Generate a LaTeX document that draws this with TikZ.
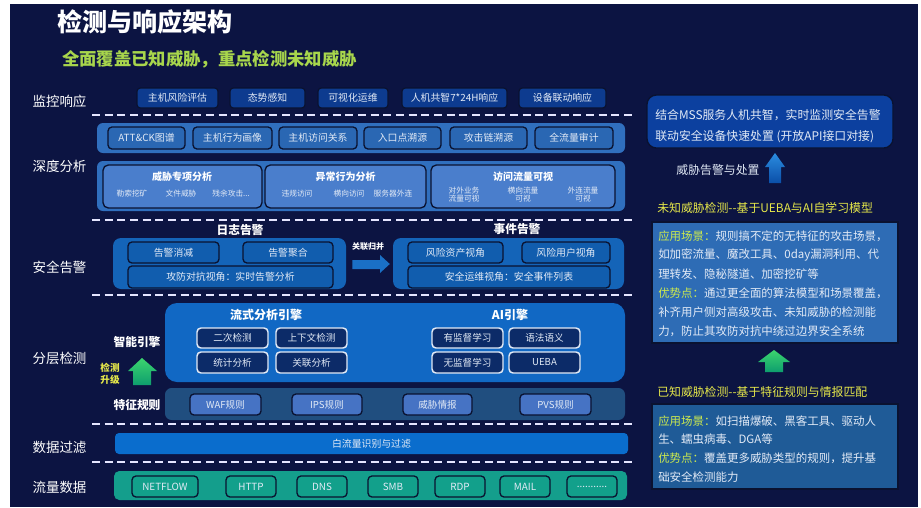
\documentclass[tikz,border=0pt]{standalone}
\usepackage{fontspec}
\setmainfont{Noto Sans CJK SC}
\definecolor{bg}{HTML}{0C1442}
\definecolor{topfill}{HTML}{0D3B8F}
\definecolor{dkline}{HTML}{0A1230}
\definecolor{deepband}{HTML}{306FBE}
\definecolor{deepboxc}{HTML}{2A67B3}
\definecolor{grpboxc}{HTML}{4A7ECC}
\definecolor{alertband}{HTML}{1464B8}
\definecolor{alertboxc}{HTML}{115DAE}
\definecolor{engband}{HTML}{1168C4}
\definecolor{engboxc}{HTML}{0C2B68}
\definecolor{ruleband}{HTML}{204E7F}
\definecolor{ruleboxc}{HTML}{4673C4}
\definecolor{filterband}{HTML}{0A6DCD}
\definecolor{flowband}{HTML}{149E8C}
\definecolor{flowboxc}{HTML}{12A08B}
\definecolor{txt}{HTML}{E2EAF6}
\definecolor{subgreen}{HTML}{A8D64C}
\definecolor{ylw}{HTML}{E6E84A}
\definecolor{hl}{HTML}{CDEA4E}
\definecolor{rbox1}{HTML}{0C409F}
\definecolor{rbox2}{HTML}{2E6CB5}
\definecolor{rbox3}{HTML}{1F5B97}
\definecolor{arrowblue}{HTML}{1A70C6}
\begin{document}
\begin{tikzpicture}[x=0.75pt,y=-0.75pt,
  wh/.style 2 args={minimum width=#1*0.75pt, minimum height=#2*0.75pt, inner sep=0pt},
  sidelbl/.style={text=white, font=\fontsize{10.1}{12}\selectfont},
  topbox/.style={draw=dkline, fill=topfill, rounded corners=2.5pt, line width=0.9pt, text=txt, font=\fontsize{7.4}{9}\selectfont},
  band/.style={rounded corners=4.5pt, inner sep=0pt},
  deepbx/.style={draw=dkline, fill=deepboxc, rounded corners=3pt, line width=1pt, text=txt, font=\fontsize{7.4}{9}\selectfont},
  grpbx/.style={draw=dkline, fill=grpboxc, rounded corners=4pt, line width=1pt},
  grptitle/.style={text=white, font=\bfseries\fontsize{7.5}{9}\selectfont},
  grpitem/.style={text=txt, font=\fontsize{5.8}{7}\selectfont, align=center},
  sectitle/.style={text=white, font=\bfseries\fontsize{8.8}{10}\selectfont},
  alertbx/.style={draw=dkline, fill=alertboxc, rounded corners=3pt, line width=1pt, text=txt, font=\fontsize{7.4}{9}\selectfont},
  engbx/.style={draw=txt, fill=engboxc, rounded corners=3pt, line width=1.1pt, text=txt, font=\fontsize{7.2}{9}\selectfont},
  rulebx/.style={draw=dkline, fill=ruleboxc, rounded corners=3pt, line width=1pt, text=txt, font=\fontsize{7.2}{9}\selectfont},
  flowbx/.style={draw=dkline, fill=flowboxc, rounded corners=3pt, line width=1pt, text=txt, font=\fontsize{7.4}{9}\selectfont},
  sepline/.style={draw=white!90!blue, line width=1.5pt, dash pattern=on 6pt off 3.5pt},
  rtext/.style={anchor=west, text=txt, font=\fontsize{8.9}{10}\selectfont, inner sep=0pt},
  rtext2/.style={anchor=west, text=txt, font=\fontsize{8.6}{10}\selectfont, inner sep=0pt},
  ytitle/.style={anchor=west, text=ylw, font=\fontsize{8.9}{10}\selectfont, inner sep=0pt}
]
\useasboundingbox (0,0) rectangle (921,507);
\fill[white] (0,0) rectangle (921,507);
\fill[bg] (10,4) rectangle (918,507);

% titles
\node[anchor=west, text=white, font=\bfseries\fontsize{18.8}{20}\selectfont, inner sep=0pt] (title) at (57,22) {检测与响应架构};
\node[anchor=west, text=subgreen, font=\bfseries\fontsize{13}{15}\selectfont, inner sep=0pt] (subtitle) at (62,59) {全面覆盖已知威胁，重点检测未知威胁};

% side labels
\node[sidelbl] (l1) at (59.5,101) {监控响应};
\node[sidelbl] (l2) at (59.5,166) {深度分析};
\node[sidelbl] (l3) at (59.5,267) {安全告警};
\node[sidelbl] (l4) at (59.5,358) {分层检测};
\node[sidelbl] (l5) at (59.5,447) {数据过滤};
\node[sidelbl] (l6) at (59.5,487) {流量数据};

% monitoring row
\node[topbox, wh={81}{20}] (m1) at (177.5,98) {主机风险评估};
\node[topbox, wh={75}{20}] (m2) at (267.5,98) {态势感知};
\node[topbox, wh={70}{20}] (m3) at (353,98) {可视化运维};
\node[topbox, wh={105}{20}] (m4) at (454.5,98) {人机共智7*24H响应};
\node[topbox, wh={87}{20}] (m5) at (562.5,98) {设备联动响应};

% separators
\draw[sepline] (92,115) -- (632,115);
\draw[sepline] (92,220) -- (632,220);
\draw[sepline] (92,295) -- (632,295);
\draw[sepline] (92,424) -- (632,424);
\draw[sepline] (92,462) -- (632,462);

% deep analysis
\node[band, fill=deepband, wh={528}{30}] (db1) at (361,138) {};
\node[deepbx, wh={77}{22}] (d1) at (146.5,138) {ATT\&CK图谱};
\node[deepbx, wh={79}{22}] (d2) at (232.5,138) {主机行为画像};
\node[deepbx, wh={78}{22}] (d3) at (318,138) {主机访问关系};
\node[deepbx, wh={77}{22}] (d4) at (402.5,138) {入口点溯源};
\node[deepbx, wh={77}{22}] (d5) at (488.5,138) {攻击链溯源};
\node[deepbx, wh={78}{22}] (d6) at (574,138) {全流量审计};

\node[band, fill=deepband, wh={528}{50}] (db2) at (361,186) {};
\node[grpbx, wh={159}{43}] (g1) at (182.5,186.5) {};
\node[grpbx, wh={161}{43}] (g2) at (345.5,186.5) {};
\node[grpbx, wh={184}{43}] (g3) at (523,186.5) {};
\node[grptitle] (g1t) at (182,177) {威胁专项分析};
\node[grptitle] (g2t) at (345.5,177) {异常行为分析};
\node[grptitle] (g3t) at (523,177) {访问流量可视};
\node[grpitem] (g1a) at (132,193.5) {勒索挖矿};
\node[grpitem] (g1b) at (181,193.5) {文件威胁};
\node[grpitem] (g1c) at (231,193.5) {残余攻击...};
\node[grpitem] (g2a) at (297,193.5) {违规访问};
\node[grpitem] (g2b) at (349,193.5) {横向访问};
\node[grpitem] (g2c) at (393,193.5) {服务器外连};
\node[grpitem] (g3a) at (464,194.5) {对外业务\\[-1.5pt]流量可视};
\node[grpitem] (g3b) at (523,194.5) {横向流量\\[-1.5pt]可视};
\node[grpitem] (g3c) at (583,194.5) {外连流量\\[-1.5pt]可视};

% security alerts
\node[sectitle] (logt) at (240,230) {日志告警};
\node[sectitle] (evt) at (517,229) {事件告警};
\node[band, fill=alertband, rounded corners=6pt, wh={233}{51}] (ab1) at (229.5,263.5) {};
\node[band, fill=alertband, rounded corners=6pt, wh={231}{51}] (ab2) at (508.5,263.5) {};
\node[alertbx, wh={91}{21}] (a1) at (173.5,252.5) {告警消减};
\node[alertbx, wh={90}{21}] (a2) at (288,252.5) {告警聚合};
\node[alertbx, wh={205}{22}] (a3) at (230.5,277) {攻防对抗视角：实时告警分析};
\node[alertbx, wh={95}{21}] (a4) at (455.5,252.5) {风险资产视角};
\node[alertbx, wh={88}{21}] (a5) at (566,252.5) {风险用户视角};
\node[alertbx, wh={202}{22}] (a6) at (509,277) {安全运维视角：安全事件列表};
\node[text=white, font=\bfseries\fontsize{6}{7}\selectfont, inner sep=0pt] (mergelbl) at (368,246) {关联归并};
\fill[arrowblue] ([xshift=4.5pt]ab1.east |- 0,260) -- (380,260) -- (380,255) -- ([xshift=-2.2pt]ab2.west |- 0,264) -- (380,273) -- (380,269) -- ([xshift=4.5pt]ab1.east |- 0,269) -- cycle;

% layered detection
\node[band, fill=engband, rounded corners=9pt, wh={460}{79}] (eng) at (395,342.5) {};
\node[text=white, font=\bfseries\fontsize{9}{10}\selectfont] (e1t) at (266,315) {流式分析引擎};
\node[text=white, font=\bfseries\fontsize{9}{10}\selectfont] (e2t) at (510,315) {AI引擎};
\node[engbx, wh={71}{20}] (e1) at (232.5,338) {二次检测};
\node[engbx, wh={71}{20}] (e2) at (311.5,338) {上下文检测};
\node[engbx, wh={71}{21}] (e3) at (232.5,362.5) {统计分析};
\node[engbx, wh={71}{21}] (e4) at (311.5,362.5) {关联分析};
\node[engbx, wh={71}{20}] (e5) at (467.5,338) {有监督学习};
\node[engbx, wh={71}{20}] (e6) at (544.5,338) {语法语义};
\node[engbx, wh={71}{21}] (e7) at (467.5,362.5) {无监督学习};
\node[engbx, wh={71}{21}] (e8) at (544.5,362.5) {UEBA};
\node[sectitle] (smart) at (137,342) {智能引擎};
\node[text=ylw, font=\bfseries\fontsize{7.2}{8.6}\selectfont, align=center, inner sep=0pt] (upg) at (110,374) {检测\\升级};
\shade[top color={rgb,255:red,60;green,212;blue,110}, bottom color={rgb,255:red,14;green,158;blue,110}]
  (142,358) -- (157,371) -- (151,371) -- (151,385) -- (133,385) -- (133,371) -- (128,371) -- cycle;

\node[sectitle] (feat) at (137,405) {特征规则};
\node[band, fill=ruleband, rounded corners=5pt, wh={460}{32}] (rb) at (395,404) {};
\node[rulebx, wh={71}{21}] (r1) at (225.5,404.5) {WAF规则};
\node[rulebx, wh={70}{21}] (r2) at (327,404.5) {IPS规则};
\node[rulebx, wh={69}{21}] (r3) at (437.5,404.5) {威胁情报};
\node[rulebx, wh={71}{21}] (r4) at (555.5,404.5) {PVS规则};

% data filter
\node[band, fill=filterband, rounded corners=3pt, wh={513}{21}, text=txt, font=\fontsize{7.4}{9}\selectfont] (flt) at (371.5,443.5) {白流量识别与过滤};

% flow data
\node[band, fill=flowband, rounded corners=4pt, wh={513}{29}] (fb) at (370.5,485.5) {};
\node[flowbx, wh={66}{21}] (f1) at (165,486.5) {NETFLOW};
\node[flowbx, wh={50}{21}] (f2) at (251,486.5) {HTTP};
\node[flowbx, wh={50}{21}] (f3) at (322,486.5) {DNS};
\node[flowbx, wh={50}{21}] (f4) at (393,486.5) {SMB};
\node[flowbx, wh={50}{21}] (f5) at (460,486.5) {RDP};
\node[flowbx, wh={50}{21}] (f6) at (525,486.5) {MAIL};
\node[flowbx, wh={50}{21}] (f7) at (592,486.5) {...........};

% right panel
\node[draw=dkline, line width=1pt, fill=rbox1, rounded corners=7pt, wh={246}{53}] (rb1) at (770,121.5) {};
\node[rtext] (rb1a) at (655,115) {结合MSS服务人机共智，实时监测安全告警};
\node[rtext] (rb1b) at (655,137) {联动安全设备快速处置 (开放API接口对接)};
\node[text=txt, font=\fontsize{8.9}{10}\selectfont] (handle) at (718,170) {威胁告警与处置};
\shade[top color={rgb,255:red,43;green,140;blue,224}, bottom color={rgb,255:red,11;green,79;blue,168}]
  (775,153) -- (785,167) -- (781,167) -- (781,183) -- (769,183) -- (769,167) -- (765,167) -- cycle;

\node[ytitle] (y1) at (657,208) {未知威胁检测-{}-基于UEBA与AI自学习模型};
\node[draw=dkline, line width=1pt, fill=rbox2, wh={246}{121}] (rb2) at (775,282.5) {};
\node[rtext2] (u1) at (658,236) {{\color{hl}应用场景：}规则搞不定的无特征的攻击场景，};
\node[rtext2] (u2) at (658,255) {如加密流量、魔改工具、0day漏洞利用、代};
\node[rtext2] (u3) at (658,274) {理转发、隐秘隧道、加密挖矿等};
\node[rtext2] (u4) at (658,293) {{\color{hl}优势点：}通过更全面的算法模型和场景覆盖，};
\node[rtext2] (u5) at (658,312) {补齐用户侧对高级攻击、未知威胁的检测能};
\node[rtext2] (u6) at (658,331) {力，防止其攻防对抗中绕过边界安全系统};
\shade[top color={rgb,255:red,60;green,212;blue,110}, bottom color={rgb,255:red,14;green,158;blue,110}]
  (774,350) -- (790,362) -- (783,362) -- (783,372) -- (765,372) -- (765,362) -- (758,362) -- cycle;

\node[ytitle] (y2) at (657,392) {已知威胁检测-{}-基于特征规则与情报匹配};
\node[draw=dkline, line width=1pt, fill=rbox3, wh={246}{85}] (rb3) at (775,446.5) {};
\node[rtext2] (k1) at (658,421) {{\color{hl}应用场景：}如扫描爆破、黑客工具、驱动人};
\node[rtext2] (k2) at (658,439.5) {生、蠕虫病毒、DGA等};
\node[rtext2] (k3) at (658,458) {{\color{hl}优势点：}覆盖更多威胁类型的规则，提升基};
\node[rtext2] (k4) at (658,477) {础安全检测能力};
\end{tikzpicture}
\end{document}
